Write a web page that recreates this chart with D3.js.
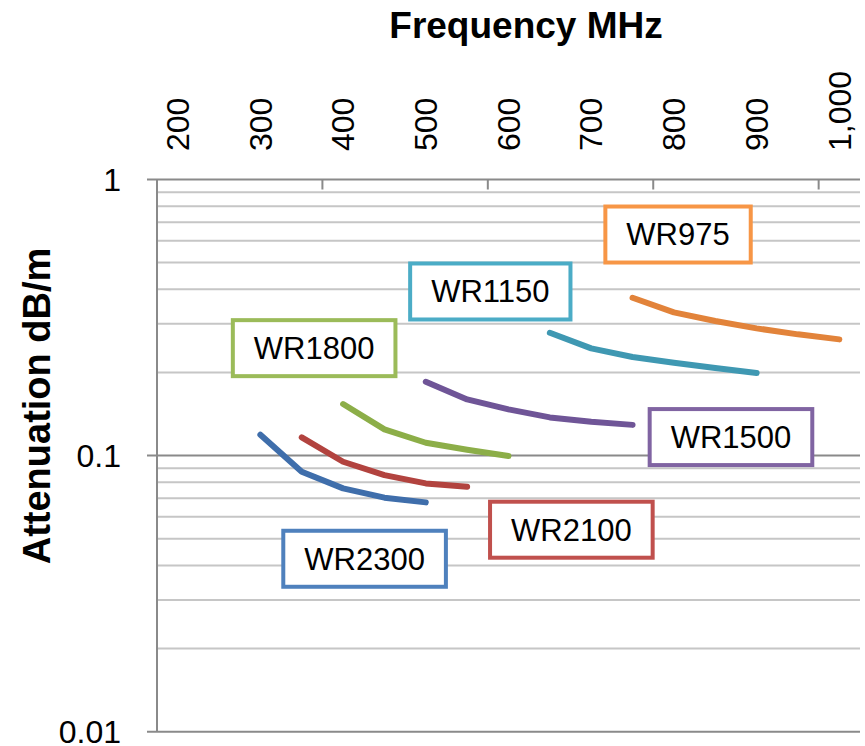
<!DOCTYPE html>
<html><head><meta charset="utf-8">
<script src="https://cdn.jsdelivr.net/npm/d3@7"></script>
<style>
html,body{margin:0;padding:0;background:#fff;}
svg{display:block;font-family:"Liberation Sans",Arial,sans-serif;}
</style></head>
<body>
<svg id="chart" width="865" height="746"></svg>
<script>
// ---- data ----
const seriesNames = ["WR2300","WR2100","WR1800","WR1500","WR1150","WR975"];
const freqWR2300 = [300,350,400,450,500];
const attWR2300  = [0.119,0.0874,0.0761,0.0704,0.0677];
const freqWR2100 = [350,400,450,500,550];
const attWR2100  = [0.1164,0.0950,0.0850,0.0793,0.0771];
const freqWR1800 = [400,450,500,550,600];
const attWR1800  = [0.1537,0.1245,0.1113,0.1050,0.0996];
const freqWR1500 = [500,550,600,650,700,750];
const attWR1500  = [0.1851,0.1598,0.1470,0.1375,0.1326,0.1292];
const freqWR1150 = [650,700,750,800,850,900];
const attWR1150  = [0.2786,0.2445,0.2275,0.2169,0.2075,0.1990];
const freqWR975  = [750,800,850,900,950,1000];
const attWR975   = [0.3729,0.3303,0.3072,0.2890,0.2749,0.2636];
// label anchor (data units)
const labelFreq = [426,676,365,869,578,805];
const labelAtt  = [0.0423,0.0539,0.245,0.1167,0.393,0.632];
const xTickLabels = [200,300,400,500,600,700,800,900,1000];
const xTickMarks  = [375,575,775,975];
const yMajor = [0.01,0.1,1];
const yMinor = [0.02,0.03,0.04,0.05,0.06,0.07,0.08,0.09,0.2,0.3,0.4,0.5,0.6,0.7,0.8,0.9];

const lineColors = ["#3f6eab","#b2433f","#8cae48","#6f5597","#3f98b2","#e2833a"];
const boxColors  = ["#4f81bd","#c0504d","#9bbb59","#8064a2","#4bacc6","#f79646"];

const freqs = [freqWR2300,freqWR2100,freqWR1800,freqWR1500,freqWR1150,freqWR975];
const atts  = [attWR2300,attWR2100,attWR1800,attWR1500,attWR1150,attWR975];

// ---- layout ----
const L=157, R=860, T=179.5, B=731.7;
const x = d3.scaleLinear().domain([175,1025]).range([L,R]);
const y = d3.scaleLog().domain([0.01,1]).range([B,T]);
const svg = d3.select("#chart");

// gridlines
svg.append("g").selectAll("line").data(yMinor).join("line")
  .attr("x1",L).attr("x2",R).attr("y1",d=>y(d)).attr("y2",d=>y(d))
  .attr("stroke","#c6c6c6").attr("stroke-width",2);
svg.append("g").selectAll("line").data(yMajor).join("line")
  .attr("x1",L-10).attr("x2",R).attr("y1",d=>y(d)).attr("y2",d=>y(d))
  .attr("stroke","#8a8a8a").attr("stroke-width",2);

// y axis line
svg.append("line").attr("x1",L).attr("x2",L).attr("y1",T).attr("y2",B)
  .attr("stroke","#8a8a8a").attr("stroke-width",2);
// x tick marks (pointing into plot)
svg.append("g").selectAll("line").data(xTickMarks).join("line")
  .attr("x1",d=>x(d)).attr("x2",d=>x(d)).attr("y1",T).attr("y2",T+10)
  .attr("stroke","#8a8a8a").attr("stroke-width",2);

// y tick labels
svg.append("g").selectAll("text").data(yMajor).join("text")
  .attr("x",121).attr("y",d=>y(d)).attr("dy","0.35em")
  .attr("text-anchor","end").attr("font-size",32).attr("fill","#000")
  .text(d=>d===1?"1":String(d));

// x tick labels (rotated)
const fmt = d3.format(",");
svg.append("g").selectAll("text").data(xTickLabels).join("text")
  .attr("transform",d=>`translate(${x(d)},151) rotate(-90)`)
  .attr("dy","0.35em").attr("text-anchor","start")
  .attr("font-size",32).attr("fill","#000")
  .text(d=>fmt(d));

// titles
svg.append("text").attr("x",526).attr("y",38).attr("text-anchor","middle")
  .attr("font-size",37).attr("font-weight","bold").text("Frequency MHz");
svg.append("text").attr("transform","translate(37,406) rotate(-90)")
  .attr("dy","0.35em").attr("text-anchor","middle")
  .attr("font-size",38).attr("font-weight","bold").text("Attenuation dB/m");

// lines
const line = d3.line().x(d=>x(d[0])).y(d=>y(d[1]));
seriesNames.forEach((n,i)=>{
  const pts = freqs[i].map((f,j)=>[f,atts[i][j]]);
  svg.append("path").datum(pts).attr("d",line)
    .attr("fill","none").attr("stroke",lineColors[i]).attr("stroke-width",6)
    .attr("stroke-linecap","round").attr("stroke-linejoin","round");
});

// labels with boxes
seriesNames.forEach((n,i)=>{
  const cx = x(labelFreq[i]), cy = y(labelAtt[i]);
  const g = svg.append("g");
  const t = g.append("text").attr("x",cx).attr("y",cy).attr("dy","0.35em")
    .attr("text-anchor","middle").attr("font-size",31).attr("fill","#000").text(n);
  const w = t.node().getComputedTextLength()+42, h=56;
  g.insert("rect","text").attr("x",cx-w/2).attr("y",cy-h/2).attr("width",w).attr("height",h)
    .attr("fill","#fff").attr("stroke",boxColors[i]).attr("stroke-width",4);
});
</script>
</body></html>
